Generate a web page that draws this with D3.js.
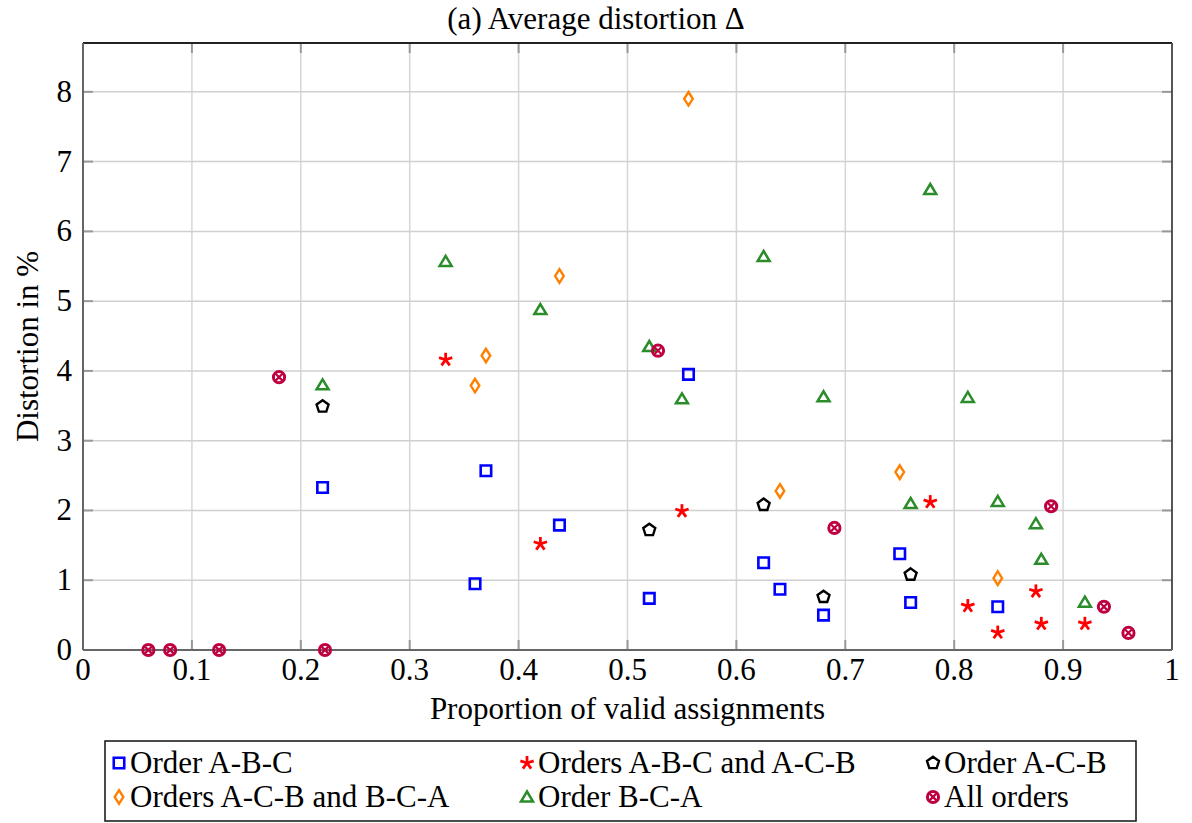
<!DOCTYPE html>
<html>
<head>
<meta charset="utf-8">
<script src="https://cdn.jsdelivr.net/npm/d3@7"></script>
<style>
  body { margin: 0; background: #fff; }
  text { font-family: "Liberation Serif", "DejaVu Serif", serif; fill: #000; }
</style>
</head>
<body>
<div id="chart"></div>
<script>
// series: [proportion of valid assignments, distortion in %]
var orderABC = [[0.22, 2.33], [0.36, 0.95], [0.37, 2.57], [0.4375, 1.79], [0.52, 0.74],
  [0.556, 3.95], [0.625, 1.25], [0.64, 0.87], [0.68, 0.50], [0.75, 1.38], [0.76, 0.68], [0.84, 0.62]];
var ordersABCandACB = [[0.333, 4.16], [0.42, 1.52], [0.55, 1.99], [0.778, 2.12], [0.8125, 0.63],
  [0.84, 0.25], [0.875, 0.84], [0.88, 0.375], [0.92, 0.375]];
var orderACB = [[0.22, 3.49], [0.52, 1.72], [0.625, 2.08], [0.68, 0.76], [0.76, 1.08]];
var ordersACBandBCA = [[0.36, 3.79], [0.37, 4.22], [0.4375, 5.36], [0.556, 7.90], [0.64, 2.28],
  [0.75, 2.55], [0.84, 1.03]];
var orderBCA = [[0.22, 3.80], [0.333, 5.57], [0.42, 4.88], [0.52, 4.35], [0.55, 3.60], [0.625, 5.64],
  [0.68, 3.63], [0.76, 2.10], [0.778, 6.60], [0.8125, 3.62], [0.84, 2.13], [0.875, 1.81],
  [0.88, 1.30], [0.92, 0.685]];
var allOrders = [[0.06, 0], [0.08, 0], [0.125, 0], [0.18, 3.91], [0.2222, 0], [0.528, 4.29],
  [0.69, 1.75], [0.889, 2.06], [0.9375, 0.62], [0.96, 0.245]];

var xTicks = [0, 0.1, 0.2, 0.3, 0.4, 0.5, 0.6, 0.7, 0.8, 0.9, 1];
var yTicks = [0, 1, 2, 3, 4, 5, 6, 7, 8];

var series = [
  { name: "Order A-B-C", data: orderABC, mark: "square", color: "#0000ff" },
  { name: "Orders A-B-C and A-C-B", data: ordersABCandACB, mark: "asterisk", color: "#ff0000" },
  { name: "Order A-C-B", data: orderACB, mark: "pentagon", color: "#000000" },
  { name: "Orders A-C-B and B-C-A", data: ordersACBandBCA, mark: "diamond", color: "#ff8000" },
  { name: "Order B-C-A", data: orderBCA, mark: "triangle", color: "#2a8c2a" },
  { name: "All orders", data: allOrders, mark: "otimes", color: "#bf0040" }
];

var width = 1192, height = 823;
var mLeft = 83, mRight = 1172, mTop = 43, mBottom = 650;
var fontSize = "31px";

var x = d3.scaleLinear().domain([0, 1]).range([mLeft, mRight]);
var y = d3.scaleLinear().domain([0, 8.7]).range([mBottom, mTop]);

var svg = d3.select("#chart").append("svg")
  .attr("width", width)
  .attr("height", height);

// grid
svg.append("g").selectAll("line")
  .data(xTicks.slice(1, -1))
  .enter().append("line")
  .attr("x1", d => x(d)).attr("x2", d => x(d))
  .attr("y1", mTop).attr("y2", mBottom)
  .style("stroke", "#d6d6d6").style("stroke-width", 1.5);

svg.append("g").selectAll("line")
  .data(yTicks.slice(1))
  .enter().append("line")
  .attr("x1", mLeft).attr("x2", mRight)
  .attr("y1", d => y(d)).attr("y2", d => y(d))
  .style("stroke", "#d0d0d0").style("stroke-width", 1.5);

// ticks on all four sides, drawn inward
var tickLen = 10;
var tk = svg.append("g").style("stroke", "#999").style("stroke-width", 2);
xTicks.slice(1, -1).forEach(function (d) {
  tk.append("line").attr("x1", x(d)).attr("x2", x(d)).attr("y1", mBottom).attr("y2", mBottom - tickLen);
  tk.append("line").attr("x1", x(d)).attr("x2", x(d)).attr("y1", mTop).attr("y2", mTop + tickLen);
});
yTicks.slice(1).forEach(function (d) {
  tk.append("line").attr("x1", mLeft).attr("x2", mLeft + tickLen).attr("y1", y(d)).attr("y2", y(d));
  tk.append("line").attr("x1", mRight).attr("x2", mRight - tickLen).attr("y1", y(d)).attr("y2", y(d));
});

// frame
svg.append("line").attr("x1", mLeft).attr("x2", mRight).attr("y1", mTop).attr("y2", mTop)
  .style("stroke", "#222").style("stroke-width", 1.8);
svg.append("line").attr("x1", mRight).attr("x2", mRight).attr("y1", mTop).attr("y2", mBottom)
  .style("stroke", "#444").style("stroke-width", 1.8);
svg.append("line").attr("x1", mLeft).attr("x2", mLeft).attr("y1", mTop).attr("y2", mBottom)
  .style("stroke", "#666").style("stroke-width", 2);
svg.append("line").attr("x1", mLeft).attr("x2", mRight).attr("y1", mBottom).attr("y2", mBottom)
  .style("stroke", "#666").style("stroke-width", 2);

// tick labels
svg.append("g").selectAll("text")
  .data(xTicks)
  .enter().append("text")
  .attr("x", d => x(d))
  .attr("y", 680)
  .style("text-anchor", "middle")
  .style("font-size", fontSize)
  .text(d => d);

svg.append("g").selectAll("text")
  .data(yTicks)
  .enter().append("text")
  .attr("x", 72)
  .attr("y", d => y(d) + 10)
  .style("text-anchor", "end")
  .style("font-size", fontSize)
  .text(d => d);

// titles
svg.append("text")
  .attr("x", 596)
  .attr("y", 29)
  .style("text-anchor", "middle")
  .style("font-size", fontSize)
  .text("(a) Average distortion \u0394");

svg.append("text")
  .attr("x", (mLeft + mRight) / 2)
  .attr("y", 719)
  .style("text-anchor", "middle")
  .style("font-size", fontSize)
  .text("Proportion of valid assignments");

svg.append("text")
  .attr("transform", "rotate(-90)")
  .attr("x", -(mTop + mBottom) / 2)
  .attr("y", 38)
  .style("text-anchor", "middle")
  .style("font-size", fontSize)
  .text("Distortion in %");

// marker drawing
function pentagonPath(r) {
  var pts = d3.range(5).map(function (i) {
    var a = -Math.PI / 2 + i * 2 * Math.PI / 5;
    return [r * Math.cos(a), r * Math.sin(a)];
  });
  return "M" + pts.join("L") + "Z";
}

function drawMark(g, mark, color) {
  if (mark === "square") {
    g.append("path").attr("d", d3.symbol().type(d3.symbolSquare).size(110)())
      .style("fill", "none").style("stroke", color).style("stroke-width", 2.6);
  } else if (mark === "triangle") {
    g.append("path").attr("d", "M0,-5.5L6,4.5L-6,4.5Z")
      .style("fill", "none").style("stroke", color).style("stroke-width", 2.5)
      .style("stroke-linejoin", "miter");
  } else if (mark === "diamond") {
    g.append("path").attr("d", "M0,-6.8L4.3,0L0,6.8L-4.3,0Z")
      .style("fill", "none").style("stroke", color).style("stroke-width", 2.4);
  } else if (mark === "pentagon") {
    g.append("path").attr("d", pentagonPath(6.3))
      .style("fill", "none").style("stroke", color).style("stroke-width", 2.4);
  } else if (mark === "asterisk") {
    d3.range(5).forEach(function (i) {
      var a = -Math.PI / 2 + i * 2 * Math.PI / 5;
      g.append("line").attr("x1", 0).attr("y1", 0)
        .attr("x2", 7 * Math.cos(a)).attr("y2", 7 * Math.sin(a))
        .style("stroke", color).style("stroke-width", 2.8);
    });
  } else if (mark === "otimes") {
    g.append("circle").attr("r", 5.6)
      .style("fill", "none").style("stroke", color).style("stroke-width", 3);
    g.append("path").attr("d", "M-3.4,-3.4L3.4,3.4M-3.4,3.4L3.4,-3.4")
      .style("stroke", color).style("stroke-width", 2.2);
  }
}

series.forEach(function (s) {
  svg.append("g").selectAll("g")
    .data(s.data)
    .enter().append("g")
    .attr("transform", d => "translate(" + x(d[0]) + "," + y(d[1]) + ")")
    .each(function () { drawMark(d3.select(this), s.mark, s.color); });
});

// legend
svg.append("rect")
  .attr("x", 105).attr("y", 741)
  .attr("width", 1031).attr("height", 80)
  .style("fill", "#fff").style("stroke", "#111").style("stroke-width", 1.5);

var colX = [119, 527, 933];
var rowY = [763, 797];
series.forEach(function (s, i) {
  var cx = colX[i % 3], cy = rowY[Math.floor(i / 3)];
  var g = svg.append("g").attr("transform", "translate(" + cx + "," + cy + ")");
  drawMark(g, s.mark, s.color);
  svg.append("text")
    .attr("x", cx + 11)
    .attr("y", cy + 10)
    .style("font-size", fontSize)
    .text(s.name);
});
</script>
</body>
</html>
